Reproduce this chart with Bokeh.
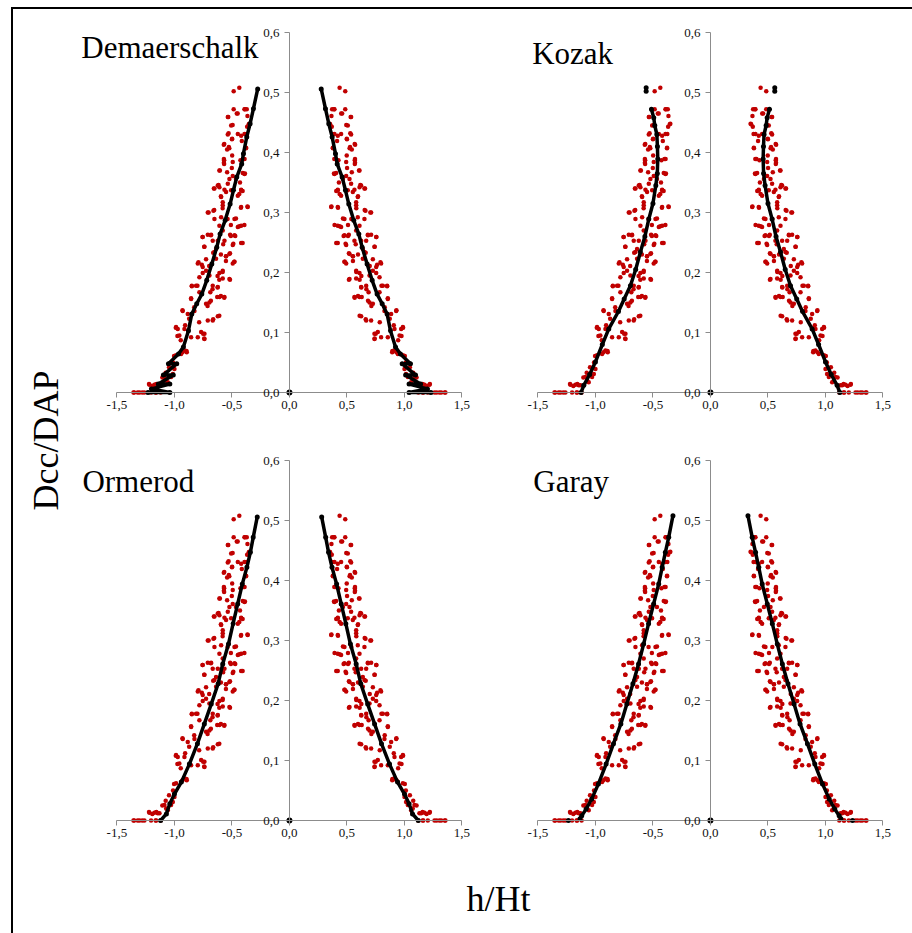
from bokeh.plotting import figure
from bokeh.models import Label, FixedTicker, CustomJSTickFormatter, Div, Spacer, Range1d
from bokeh.layouts import row, column
from bokeh.embed import file_html
from bokeh.resources import INLINE
from math import pi

# ---------------- data (right half; left half is the mirror image) ----------------
# observed relative diameters (red), same in all four panels
RED_X = [0.436, 0.485, 0.387, 0.485, 0.45, 0.532, 0.349, 0.494, 0.529, 0.375, 0.567, 0.50,
         0.378, 0.523, 0.570, 0.570, 0.39, 0.605, 0.387, 0.465, 0.43, 0.616, 0.657, 0.407,
         0.436, 0.596, 0.363, 0.422, 0.581, 0.654, 0.703, 0.465, 0.538, 0.392, 0.436, 0.509,
         0.471, 0.509, 0.683, 0.756, 0.407, 0.488, 0.741, 0.576, 0.517, 0.552, 0.596, 0.663,
         0.48, 0.552, 0.791, 0.762, 0.581, 0.625, 0.698, 0.517, 0.61, 0.669, 0.625, 0.80,
         0.849, 0.567, 0.596, 0.683, 0.712, 0.828, 0.93, 0.61, 0.663, 0.872, 0.785, 0.907,
         0.988, 0.974, 0.945, 0.75, 0.741, 0.895, 0.93, 1.003, 1.012, 1.047, 1.076, 1.105,
         1.157, 1.221, 1.192, 1.12, 1.163, 1.28, 1.32, 1.35,
         0.371, 0.391, 0.365, 0.458, 0.536, 0.354, 0.368, 0.507, 0.391, 0.42, 0.449, 0.414,
         0.498, 0.536, 0.377, 0.527, 0.571, 0.542, 0.40, 0.426, 0.498, 0.568, 0.568, 0.493,
         0.391, 0.406, 0.501, 0.542, 0.609, 0.493, 0.522, 0.536, 0.623, 0.652, 0.42, 0.565,
         0.42, 0.507, 0.551, 0.609, 0.449, 0.594, 0.365, 0.42, 0.58, 0.58, 0.661, 0.71,
         0.478, 0.594, 0.652, 0.42, 0.449, 0.609, 0.58, 0.478, 0.516, 0.681, 0.71, 0.754,
         0.565, 0.623, 0.667, 0.42, 0.493, 0.739, 0.638, 0.652, 0.522, 0.551, 0.725, 0.638,
         0.478, 0.493, 0.797, 0.58, 0.754, 0.609, 0.725, 0.522, 0.58, 0.696, 0.783, 0.754,
         0.812, 0.849, 0.623, 0.667, 0.688, 0.783, 0.565, 0.628, 0.855,
         0.609, 0.696, 0.725, 0.855, 0.623, 0.667, 0.71, 0.826, 0.884, 0.928, 0.739, 0.797,
         0.855, 0.768, 0.913, 0.986, 0.971, 0.957, 0.739, 0.893, 0.913, 0.942, 0.986, 1.0,
         1.014, 1.029, 1.087, 1.072, 1.058, 1.13, 1.145, 1.174, 1.217, 1.159, 1.203, 1.261,
         1.304, 1.356]
RED_Y = [0.508, 0.502, 0.472, 0.472, 0.465, 0.459, 0.448, 0.446, 0.432, 0.431, 0.414, 0.422,
         0.407, 0.407, 0.389, 0.383, 0.389, 0.37, 0.365, 0.356, 0.35, 0.346, 0.34, 0.336,
         0.331, 0.327, 0.309, 0.308, 0.307, 0.304, 0.30, 0.29, 0.289, 0.279, 0.277, 0.279,
         0.261, 0.261, 0.262, 0.259, 0.249, 0.248, 0.243, 0.247, 0.232, 0.227, 0.23, 0.233,
         0.218, 0.219, 0.217, 0.213, 0.201, 0.194, 0.211, 0.188, 0.188, 0.172, 0.175, 0.178,
         0.178, 0.158, 0.161, 0.153, 0.144, 0.142, 0.137, 0.128, 0.122, 0.123, 0.117, 0.112,
         0.108, 0.094, 0.087, 0.098, 0.09, 0.069, 0.067, 0.061, 0.05, 0.042, 0.033, 0.025,
         0.014, 0.014, 0.011, 0.0, 0.0, 0.0, 0.0, 0.0,
         0.472, 0.472, 0.461, 0.465, 0.459, 0.447, 0.443, 0.445, 0.431, 0.428, 0.431, 0.419,
         0.423, 0.43, 0.408, 0.409, 0.413, 0.405, 0.389, 0.387, 0.395, 0.387, 0.381, 0.384,
         0.364, 0.366, 0.374, 0.367, 0.37, 0.361, 0.356, 0.348, 0.345, 0.34, 0.338, 0.338,
         0.337, 0.337, 0.334, 0.342, 0.328, 0.326, 0.31, 0.309, 0.317, 0.312, 0.303, 0.30,
         0.289, 0.292, 0.289, 0.278, 0.276, 0.278, 0.27, 0.262, 0.263, 0.263, 0.263, 0.259,
         0.253, 0.253, 0.253, 0.249, 0.246, 0.243, 0.239, 0.234, 0.231, 0.227, 0.222, 0.223,
         0.218, 0.215, 0.215, 0.203, 0.209, 0.199, 0.203, 0.189, 0.19, 0.195, 0.192, 0.199,
         0.178, 0.177, 0.176, 0.178, 0.167, 0.167, 0.159, 0.159, 0.157,
         0.159, 0.15, 0.148, 0.156, 0.127, 0.12, 0.12, 0.136, 0.131, 0.136, 0.098, 0.092,
         0.092, 0.101, 0.106, 0.109, 0.106, 0.095, 0.089, 0.067, 0.07, 0.064, 0.062, 0.039,
         0.031, 0.026, 0.026, 0.02, 0.017, 0.012, 0.012, 0.013, 0.013, 0.0, 0.0, 0.0,
         0.0, 0.0]

# fitted values (black), one series per taper model
DEM_X = [0.276, 0.313, 0.342, 0.371, 0.40, 0.415, 0.458, 0.487, 0.516, 0.559, 0.603, 0.632,
         0.675, 0.719, 0.762, 0.806, 0.849, 0.878, 0.922, 0.965, 1.052, 0.98, 1.096, 1.01,
         1.14, 1.04, 1.20, 1.04, 1.23]
DEM_Y = [0.506, 0.473, 0.448, 0.426, 0.398, 0.381, 0.359, 0.337, 0.314, 0.287, 0.264, 0.242,
         0.214, 0.187, 0.164, 0.148, 0.131, 0.103, 0.076, 0.064, 0.048, 0.048, 0.029, 0.029,
         0.014, 0.014, 0.006, 0.0, 0.0]
KOZ_X = [0.513, 0.493, 0.484, 0.466, 0.461, 0.458, 0.462, 0.475, 0.50, 0.536, 0.57,
         0.609, 0.65, 0.696, 0.75, 0.80, 0.884, 0.94, 1.0, 1.05, 1.101, 1.125]
KOZ_Y = [0.472, 0.458, 0.445, 0.43, 0.41, 0.389, 0.365, 0.345, 0.315, 0.289, 0.26,
         0.234, 0.205, 0.178, 0.156, 0.135, 0.106, 0.08, 0.051, 0.03, 0.012, 0.0]
KOZ_EXTRA_X = [0.559, 0.559]
KOZ_EXTRA_Y = [0.508, 0.502]
ORM_X = [0.28, 0.315, 0.34, 0.37, 0.41, 0.45, 0.49, 0.53, 0.58, 0.62, 0.68, 0.74, 0.80,
         0.87, 0.94, 1.0, 1.04, 1.07, 1.12]
ORM_Y = [0.506, 0.472, 0.447, 0.422, 0.394, 0.361, 0.328, 0.294, 0.261, 0.228, 0.194,
         0.161, 0.128, 0.094, 0.064, 0.044, 0.028, 0.011, 0.0]
GAR_X = [0.326, 0.363, 0.392, 0.42, 0.45, 0.494, 0.538, 0.581, 0.625, 0.674, 0.727, 0.779,
         0.843, 0.907, 0.974, 1.032, 1.081, 1.119, 1.134]
GAR_Y = [0.508, 0.472, 0.447, 0.422, 0.394, 0.361, 0.328, 0.294, 0.261, 0.228, 0.194,
         0.161, 0.128, 0.094, 0.061, 0.036, 0.019, 0.008, 0.003]
GAR_EXTRA_X = [1.235]
GAR_EXTRA_Y = [0.0]

MODELS = ["Demaerschalk", "Kozak", "Ormerod", "Garay"]
X_TICKS = [-1.5, -1.0, -0.5, 0.0, 0.5, 1.0, 1.5]
Y_TICKS = [0.0, 0.1, 0.2, 0.3, 0.4, 0.5, 0.6]

RED = "#C00000"
AXIS_GRAY = "#8c8c8c"
SERIF = "Liberation Serif"


def panel(name, bx, by, extra_x, extra_y, borders, title_pos):
    left, right, top, bottom = borders
    p = figure(frame_width=398, frame_height=408,
               x_range=Range1d(-1.86, 1.6), y_range=Range1d(-0.06, 0.62),
               min_border_left=left, min_border_right=right,
               min_border_top=top, min_border_bottom=bottom,
               toolbar_location=None, output_backend="svg",
               background_fill_color="white", border_fill_color="white")
    p.outline_line_color = None
    p.grid.visible = False
    fmt = CustomJSTickFormatter(code="return tick.toFixed(1).replace('.', ',');")
    for ax, ticks, bounds in ((p.xaxis[0], X_TICKS, (-1.5, 1.5)), (p.yaxis[0], Y_TICKS, (0.0, 0.6))):
        ax.fixed_location = 0
        ax.bounds = bounds
        ax.ticker = FixedTicker(ticks=ticks)
        ax.formatter = fmt
        ax.minor_tick_line_color = None
        ax.axis_line_color = AXIS_GRAY
        ax.major_tick_line_color = AXIS_GRAY
        ax.major_tick_out = 5
        ax.major_tick_in = 0
        ax.major_label_text_font = SERIF
        ax.major_label_text_font_size = "13px"
        ax.major_label_text_color = "#111111"
    p.xaxis.major_label_standoff = 3
    p.yaxis.major_label_standoff = 5

    # observed (mirrored)
    rx = [-v for v in RED_X] + RED_X
    ry = RED_Y + RED_Y
    p.scatter(rx, ry, size=4.5, color=RED, line_color=None)
    # fitted
    for sx in (-1, 1):
        xs = [sx * v for v in bx]
        p.line(xs, by, line_color="black", line_width=3.5)
        p.scatter(xs, by, size=5, color="black", line_color=None)
        if extra_x:
            p.scatter([sx * v for v in extra_x], extra_y, size=5, color="black", line_color=None)
    p.scatter([0.0], [0.0], size=6, color="black", line_color=None)

    p.add_layout(Label(x=title_pos[0], y=title_pos[1], text=name,
                       text_font=SERIF, text_font_size="31px", text_color="black",
                       text_baseline="alphabetic"))
    return p


# page x of frame left: left panels 75, right panels 496 ; content starts at page x 13
p1 = panel(MODELS[0], DEM_X, DEM_Y, None, None, (4, 8, 11, 20), (-1.81, 0.575))
p2 = panel(MODELS[1], KOZ_X, KOZ_Y, KOZ_EXTRA_X, KOZ_EXTRA_Y, (15, 10, 11, 20), (-1.55, 0.565))
p3 = panel(MODELS[2], ORM_X, ORM_Y, None, None, (4, 8, 0, 6), (-1.80, 0.565))
p4 = panel(MODELS[3], GAR_X, GAR_Y, GAR_EXTRA_X, GAR_EXTRA_Y, (15, 10, 0, 6), (-1.54, 0.565))

# y-axis title
ylab = figure(width=58, height=924, x_range=Range1d(0, 58), y_range=Range1d(0, 924),
              min_border=0, toolbar_location=None, output_backend="svg",
              x_axis_location=None, y_axis_location=None)
ylab.outline_line_color = None
ylab.grid.visible = False
ylab.add_layout(Label(x=32, y=493, text="Dcc/DAP", angle=pi / 2, text_font=SERIF,
                      text_font_size="36px", text_align="center", text_baseline="middle",
                      text_color="black"))

# x-axis title
xlab = figure(width=837, height=71, x_range=Range1d(0, 837), y_range=Range1d(0, 71),
              min_border=0, toolbar_location=None, output_backend="svg",
              x_axis_location=None, y_axis_location=None)
xlab.outline_line_color = None
xlab.grid.visible = False
xlab.add_layout(Label(x=427, y=35, text="h/Ht", text_font=SERIF, text_font_size="36px",
                      text_align="center", text_baseline="alphabetic", text_color="black"))

top_line = Div(width=901, height=2, margin=0, styles={"background-color": "black"})
left_line = Div(width=2, height=924, margin=0, styles={"background-color": "black"})

grid = column(row(p1, p2), row(p3, p4), xlab)
layout = column(
    Spacer(width=912, height=7, margin=0),
    row(Spacer(width=11, height=2, margin=0), top_line),
    row(Spacer(width=11, height=924, margin=0), left_line, ylab, grid),
)

open("out.html", "w").write(file_html(layout, INLINE))
